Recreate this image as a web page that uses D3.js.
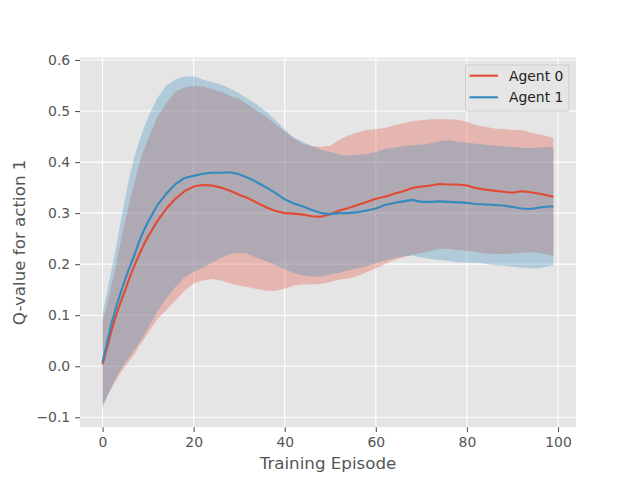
<!DOCTYPE html>
<html>
<head>
<meta charset="utf-8">
<script src="https://cdn.jsdelivr.net/npm/d3@7"></script>
<style>
  body { margin: 0; background: #fff; }
  text { font-family: "DejaVu Sans", sans-serif; }
</style>
</head>
<body>
<div id="chart"></div>
<script>
// Q-value for action 1 per training episode, mean with band for each agent
const episodes = [0, 1, 2, 3, 4, 5, 6, 7, 8, 9, 10,
  12, 14, 16, 18, 20, 22, 24, 26, 28, 30, 32, 34, 36, 38, 40, 42, 44, 46, 48,
  50, 52, 54, 56, 58, 60, 62, 64, 66, 68, 70, 72, 74, 76, 78, 80, 82, 84, 86, 88,
  90, 92, 94, 96, 98, 99];

const agent0Mean = [0.004, 0.036, 0.071, 0.100, 0.126, 0.150, 0.175, 0.197, 0.218, 0.237, 0.254,
  0.284, 0.309, 0.328, 0.343, 0.352, 0.355, 0.354, 0.350, 0.344, 0.336, 0.329, 0.320, 0.311, 0.304, 0.300, 0.299, 0.297, 0.294, 0.293,
  0.298, 0.305, 0.310, 0.316, 0.322, 0.328, 0.332, 0.338, 0.343, 0.349, 0.352, 0.354, 0.357, 0.356, 0.356, 0.354, 0.349, 0.346, 0.344, 0.342,
  0.340, 0.343, 0.341, 0.338, 0.334, 0.332];
const agent0Upper = [0.088, 0.120, 0.160, 0.200, 0.245, 0.285, 0.325, 0.360, 0.395, 0.422, 0.445,
  0.488, 0.515, 0.538, 0.546, 0.549, 0.548, 0.543, 0.538, 0.530, 0.524, 0.512, 0.500, 0.488, 0.474, 0.460, 0.446, 0.436, 0.431, 0.430,
  0.432, 0.444, 0.452, 0.458, 0.463, 0.465, 0.467, 0.472, 0.476, 0.480, 0.482, 0.484, 0.484, 0.484, 0.483, 0.479, 0.472, 0.469, 0.466, 0.465,
  0.463, 0.463, 0.458, 0.454, 0.450, 0.447];
const agent0Lower = [-0.076, -0.058, -0.042, -0.027, -0.012, 0.000, 0.012, 0.024, 0.039, 0.052, 0.065,
  0.092, 0.110, 0.129, 0.148, 0.162, 0.168, 0.171, 0.168, 0.162, 0.158, 0.155, 0.151, 0.148, 0.148, 0.152, 0.158, 0.160, 0.160, 0.161,
  0.165, 0.170, 0.172, 0.177, 0.184, 0.192, 0.200, 0.208, 0.213, 0.219, 0.222, 0.226, 0.230, 0.230, 0.228, 0.226, 0.224, 0.221, 0.220, 0.220,
  0.221, 0.222, 0.224, 0.222, 0.218, 0.216];

const agent1Mean = [0.008, 0.047, 0.085, 0.116, 0.145, 0.171, 0.195, 0.218, 0.243, 0.265, 0.283,
  0.315, 0.338, 0.357, 0.369, 0.373, 0.377, 0.379, 0.379, 0.380, 0.376, 0.369, 0.360, 0.350, 0.339, 0.327, 0.319, 0.313, 0.306, 0.300,
  0.298, 0.300, 0.300, 0.302, 0.305, 0.309, 0.316, 0.320, 0.323, 0.326, 0.322, 0.322, 0.323, 0.322, 0.321, 0.320, 0.318, 0.317, 0.316, 0.315,
  0.312, 0.309, 0.308, 0.311, 0.313, 0.313];
const agent1Upper = [0.104, 0.145, 0.190, 0.235, 0.285, 0.330, 0.375, 0.410, 0.440, 0.465, 0.488,
  0.525, 0.550, 0.562, 0.567, 0.568, 0.562, 0.557, 0.552, 0.544, 0.535, 0.523, 0.512, 0.498, 0.482, 0.464, 0.448, 0.440, 0.431, 0.424,
  0.420, 0.415, 0.413, 0.414, 0.416, 0.420, 0.426, 0.428, 0.431, 0.433, 0.434, 0.437, 0.441, 0.443, 0.440, 0.438, 0.436, 0.434, 0.432, 0.431,
  0.430, 0.428, 0.427, 0.429, 0.430, 0.427];
const agent1Lower = [-0.083, -0.060, -0.040, -0.022, -0.006, 0.008, 0.020, 0.032, 0.046, 0.060, 0.075,
  0.107, 0.133, 0.156, 0.174, 0.185, 0.193, 0.203, 0.212, 0.220, 0.222, 0.220, 0.212, 0.205, 0.198, 0.190, 0.182, 0.178, 0.176, 0.176,
  0.180, 0.183, 0.188, 0.192, 0.196, 0.202, 0.207, 0.212, 0.215, 0.217, 0.213, 0.210, 0.208, 0.206, 0.204, 0.203, 0.203, 0.201, 0.198, 0.197,
  0.195, 0.193, 0.192, 0.192, 0.196, 0.198];

const seriesNames = ['Agent 0', 'Agent 1'];
const seriesColors = ['#E24A33', '#348ABD'];
const xTicks = [0, 20, 40, 60, 80, 100];
const yTicks = [-0.1, 0.0, 0.1, 0.2, 0.3, 0.4, 0.5, 0.6];

const width = 640, height = 480;
const axL = 80, axR = 576, axT = 57.6, axB = 427.2;

const svg = d3.select('#chart').append('svg')
  .attr('width', width)
  .attr('height', height);

const x = d3.scaleLinear().domain([-4.95, 103.95]).range([axL, axR]);
const y = d3.scaleLinear().domain([-0.1194, 0.6047]).range([axB, axT]);

svg.append('rect')
  .attr('x', axL).attr('y', axT)
  .attr('width', axR - axL).attr('height', axB - axT)
  .attr('fill', '#E5E5E5');

// grid
const grid = svg.append('g');
xTicks.forEach(t => {
  grid.append('line')
    .attr('x1', x(t)).attr('x2', x(t))
    .attr('y1', axT).attr('y2', axB)
    .attr('stroke', '#fff').attr('stroke-width', 1.1);
});
yTicks.forEach(t => {
  grid.append('line')
    .attr('x1', axL).attr('x2', axR)
    .attr('y1', y(t)).attr('y2', y(t))
    .attr('stroke', '#fff').attr('stroke-width', 1.1);
});

const series = [
  { mean: agent0Mean, upper: agent0Upper, lower: agent0Lower },
  { mean: agent1Mean, upper: agent1Upper, lower: agent1Lower }
];

const area = d3.area()
  .x(d => x(d.ep))
  .y0(d => y(d.lo))
  .y1(d => y(d.hi));

const line = d3.line()
  .x(d => x(d.ep))
  .y(d => y(d.v));

series.forEach((s, i) => {
  const pts = episodes.map((ep, j) => ({ ep, lo: s.lower[j], hi: s.upper[j] }));
  svg.append('path')
    .attr('d', area(pts))
    .attr('fill', seriesColors[i])
    .attr('fill-opacity', 0.3);
});

series.forEach((s, i) => {
  const pts = episodes.map((ep, j) => ({ ep, v: s.mean[j] }));
  svg.append('path')
    .attr('d', line(pts))
    .attr('fill', 'none')
    .attr('stroke', seriesColors[i])
    .attr('stroke-width', 2.1)
    .attr('stroke-linejoin', 'round');
});

// axes
const xAxis = svg.append('g')
  .attr('transform', `translate(0,${axB})`)
  .call(d3.axisBottom(x).tickValues(xTicks).tickSize(4.9).tickPadding(4.9).tickFormat(d3.format('d')));
const yAxis = svg.append('g')
  .attr('transform', `translate(${axL},0)`)
  .call(d3.axisLeft(y).tickValues(yTicks).tickSize(4.9).tickPadding(4.9)
    .tickFormat(d => d3.format('.1f')(d).replace('-', '\u2212')));

[xAxis, yAxis].forEach(a => {
  a.select('.domain').remove();
  a.selectAll('.tick line').attr('stroke', '#555').attr('stroke-width', 1.1);
  a.selectAll('.tick text')
    .attr('fill', '#555')
    .attr('font-size', '13.9px')
    .attr('font-family', 'DejaVu Sans');
});

svg.append('text')
  .attr('x', (axL + axR) / 2)
  .attr('y', 469)
  .attr('text-anchor', 'middle')
  .attr('fill', '#555')
  .attr('font-size', '16.7px')
  .text('Training Episode');

svg.append('text')
  .attr('transform', `translate(25,${(axT + axB) / 2}) rotate(-90)`)
  .attr('text-anchor', 'middle')
  .attr('fill', '#555')
  .attr('font-size', '16.7px')
  .text('Q-value for action 1');

// legend
const lg = svg.append('g');
lg.append('rect')
  .attr('x', 465.5).attr('y', 65)
  .attr('width', 103.5).attr('height', 46)
  .attr('rx', 2)
  .attr('fill', '#E5E5E5').attr('fill-opacity', 0.8)
  .attr('stroke', '#CCCCCC').attr('stroke-width', 1);
seriesNames.forEach((name, i) => {
  const cy = 75.7 + i * 21.6;
  lg.append('line')
    .attr('x1', 469.5).attr('x2', 498)
    .attr('y1', cy).attr('y2', cy)
    .attr('stroke', seriesColors[i]).attr('stroke-width', 2.1);
  lg.append('text')
    .attr('x', 509).attr('y', cy)
    .attr('dy', '0.36em')
    .attr('fill', '#222')
    .attr('font-size', '13.9px')
    .text(name);
});
</script>
</body>
</html>
